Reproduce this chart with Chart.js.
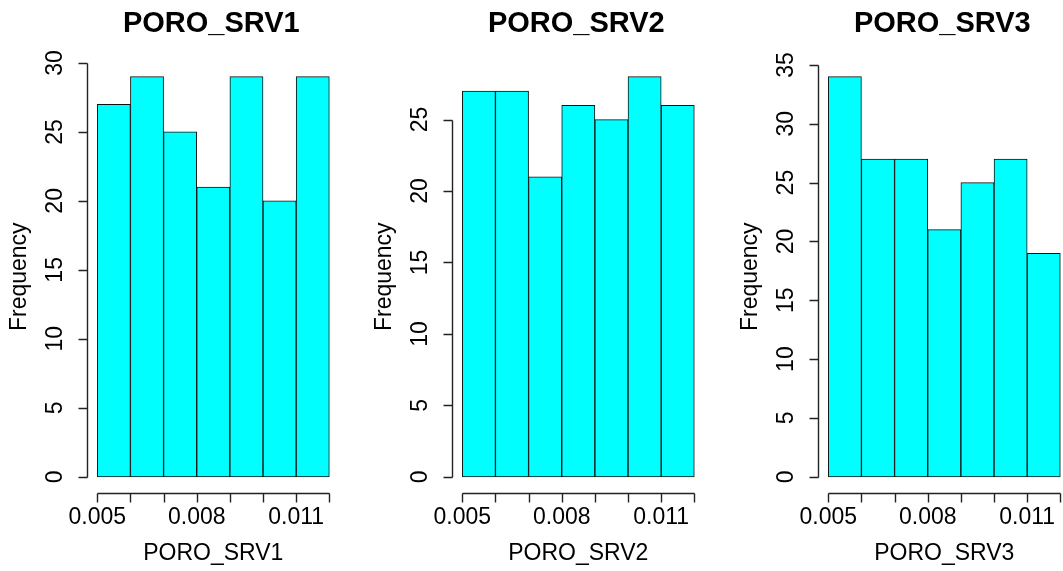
<!DOCTYPE html>
<html>
<head>
<meta charset="utf-8">
<script src="https://cdn.jsdelivr.net/npm/chart.js@4.4.1/dist/chart.umd.min.js"></script>
<style>
  html, body { margin: 0; padding: 0; background: #fff; overflow: hidden; }
  #fig { position: relative; width: 1063px; height: 571px; overflow: hidden; background: #fff; }
  .panel { position: absolute; top: 0; width: 366px; height: 571px; }
</style>
</head>
<body>
<div id="fig">
  <div class="panel" style="left:0px"><canvas id="c1" width="366" height="571"></canvas></div>
  <div class="panel" style="left:365px"><canvas id="c2" width="366" height="571"></canvas></div>
  <div class="panel" style="left:731px"><canvas id="c3" width="366" height="571"></canvas></div>
</div>
<script>
// Histogram bin breaks shared by all three porosity variables
const breaks = [0.005, 0.006, 0.007, 0.008, 0.009, 0.010, 0.011, 0.012];
const variables = ['PORO_SRV1', 'PORO_SRV2', 'PORO_SRV3'];

// Counts per bin
const countsSRV1 = [27, 29, 25, 21, 29, 20, 29];
const countsSRV2 = [27, 27, 21, 26, 25, 28, 26];
const countsSRV3 = [34, 27, 27, 21, 25, 27, 19];

// Axis tick values / labels
const yTicksSRV1 = [0, 5, 10, 15, 20, 25, 30];
const yTicksSRV2 = [0, 5, 10, 15, 20, 25];
const yTicksSRV3 = [0, 5, 10, 15, 20, 25, 30, 35];
const xTickLabels = ['0.005', '0.008', '0.011'];

const FONT = "'Liberation Sans', Arial, Helvetica, sans-serif";

// R-style axes: lines span first to last tick, ticks point outward,
// y labels parallel to the axis, bold main title above the plot region
const rStyle = {
  id: 'rStyle',
  afterDraw(chart, args, opts) {
    const { ctx, chartArea } = chart;
    const xs = chart.scales.x, ys = chart.scales.y;
    const yt = opts.yTicks;
    const TL = 9;
    ctx.save();
    ctx.strokeStyle = '#222';
    ctx.lineWidth = 1.4;
    ctx.setLineDash([]);

    // x axis line and tick marks
    const yb = Math.round(chartArea.bottom) + 0.5;
    ctx.beginPath();
    ctx.moveTo(Math.round(xs.getPixelForValue(breaks[0])) + 0.5, yb);
    ctx.lineTo(Math.round(xs.getPixelForValue(breaks[breaks.length - 1])) + 0.5, yb);
    breaks.forEach(v => {
      const px = Math.round(xs.getPixelForValue(v)) + 0.5;
      ctx.moveTo(px, yb);
      ctx.lineTo(px, yb + TL);
    });
    ctx.stroke();

    // y axis line and tick marks
    const xl = Math.round(chartArea.left) - 0.5;
    ctx.beginPath();
    ctx.moveTo(xl, Math.round(ys.getPixelForValue(yt[0])) + 0.5);
    ctx.lineTo(xl, Math.round(ys.getPixelForValue(yt[yt.length - 1])) + 0.5);
    yt.forEach(v => {
      const py = Math.round(ys.getPixelForValue(v)) + 0.5;
      ctx.moveTo(xl, py);
      ctx.lineTo(xl - TL, py);
    });
    ctx.stroke();

    ctx.fillStyle = '#000';
    ctx.font = '23px ' + FONT;
    ctx.textAlign = 'center';
    ctx.textBaseline = 'middle';

    // x tick labels (R drops the ones that would overlap)
    xTickLabels.forEach(t => {
      ctx.fillText(t, xs.getPixelForValue(Number(t)), chartArea.bottom + 25);
    });

    // y tick labels, parallel to the axis
    yt.forEach(v => {
      ctx.save();
      ctx.translate(chartArea.left - 32, ys.getPixelForValue(v));
      ctx.rotate(-Math.PI / 2);
      ctx.fillText(String(v), 0, 0);
      ctx.restore();
    });

    // axis titles
    ctx.fillText(opts.title, (chartArea.left + chartArea.right) / 2, chartArea.bottom + 61);
    ctx.save();
    ctx.translate(chartArea.left - 68, (chartArea.top + chartArea.bottom) / 2);
    ctx.rotate(-Math.PI / 2);
    ctx.fillText('Frequency', 0, 0);
    ctx.restore();

    // main title
    ctx.font = 'bold 29px ' + FONT;
    ctx.fillText(opts.title, (chartArea.left + chartArea.right) / 2 - 2, 24);
    ctx.restore();
  }
};

function makeHist(canvasId, name, counts, yTicks) {
  const lo = breaks[0], hi = breaks[breaks.length - 1];
  const xPad = 0.04 * (hi - lo);
  const yMax = Math.max(...counts);
  const yPad = 0.04 * yMax;
  const data = counts.map((c, i) => ({ x: (breaks[i] + breaks[i + 1]) / 2, y: c }));

  return new Chart(document.getElementById(canvasId), {
    type: 'bar',
    data: {
      datasets: [{
        data: data,
        backgroundColor: '#00FFFF',
        borderColor: '#111111',
        borderWidth: 1,
        borderSkipped: false,
        barPercentage: 1,
        categoryPercentage: 1
      }]
    },
    plugins: [rStyle],
    options: {
      responsive: false,
      animation: false,
      events: [],
      layout: { padding: { top: 60.7, right: 27.4, left: 88, bottom: 78.2 } },
      plugins: {
        legend: { display: false },
        tooltip: { enabled: false },
        rStyle: { title: name, yTicks: yTicks }
      },
      scales: {
        x: {
          type: 'linear',
          min: lo - xPad,
          max: hi + xPad,
          offset: false,
          afterBuildTicks: s => { s.ticks = breaks.map(v => ({ value: v })); },
          afterFit: s => { s.height = 0; s.paddingLeft = 0; s.paddingRight = 0; },
          ticks: { display: false },
          grid: { display: false },
          border: { display: false }
        },
        y: {
          min: -yPad,
          max: yMax + yPad,
          afterBuildTicks: s => { s.ticks = yTicks.map(v => ({ value: v })); },
          afterFit: s => { s.width = 0; s.paddingTop = 0; s.paddingBottom = 0; },
          ticks: { display: false },
          grid: { display: false },
          border: { display: false }
        }
      }
    }
  });
}

makeHist('c1', variables[0], countsSRV1, yTicksSRV1);
makeHist('c2', variables[1], countsSRV2, yTicksSRV2);
makeHist('c3', variables[2], countsSRV3, yTicksSRV3);
</script>
</body>
</html>
